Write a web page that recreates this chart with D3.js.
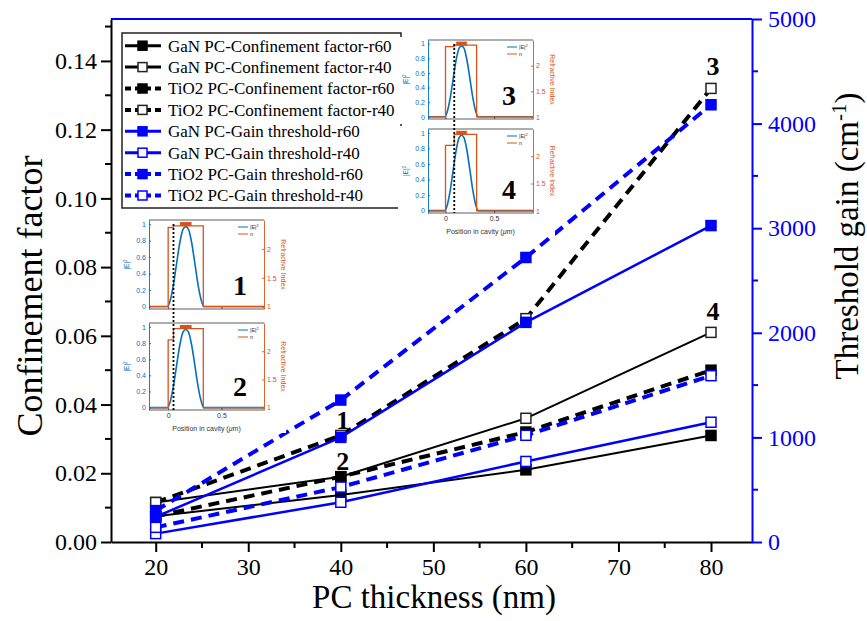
<!DOCTYPE html>
<html><head><meta charset="utf-8">
<script src="https://cdn.jsdelivr.net/npm/d3@7"></script>
<style>body{margin:0;background:#fff}svg{display:block}</style>
</head><body>
<svg id="c" width="867" height="621"></svg>
<script>
// ---------- data ----------
const thickness = [20, 40, 60, 80];
const xTicks = [20, 30, 40, 50, 60, 70, 80];
const cfTicks = [0, 0.02, 0.04, 0.06, 0.08, 0.10, 0.12, 0.14];
const gtTicks = [0, 1000, 2000, 3000, 4000, 5000];
const seriesNames = [
  "GaN PC-Confinement factor-r60",
  "GaN PC-Confinement factor-r40",
  "TiO2 PC-Confinement factor-r60",
  "TiO2 PC-Confinement factor-r40",
  "GaN PC-Gain threshold-r60",
  "GaN PC-Gain threshold-r40",
  "TiO2 PC-Gain threshold-r60",
  "TiO2 PC-Gain threshold-r40"
];
const ganCfR60 = [0.0075, 0.0137, 0.021, 0.031];
const ganCfR40 = [0.0115, 0.019, 0.036, 0.061];
const tioCfR60 = [0.0075, 0.019, 0.032, 0.050];
const tioCfR40 = [0.0115, 0.031, 0.065, 0.132];
const ganGtR60 = [240, 1000, 2100, 3025];
const ganGtR40 = [80, 380, 770, 1145];
const tioGtR60 = [300, 1357, 2720, 4180];
const tioGtR40 = [140, 525, 1020, 1590];
const annotLabels = ["1", "2", "3", "4"];
const annotX = [40, 40, 80, 80];
const annotCf = [0.031, 0.019, 0.132, 0.061];

// inset data
const insetXTicks = [0, 0.5];
const insetLeftTicks = [0, 0.2, 0.4, 0.6, 0.8, 1];
const insetRightTicks = [1, 1.5, 2];
const ePos = [-0.18, -0.005, 0.02, 0.05, 0.08, 0.11, 0.14, 0.165, 0.19, 0.22, 0.25, 0.28, 0.31, 0.335, 0.9];
const eVal = [0, 0, 0.08, 0.27, 0.53, 0.78, 0.94, 0.97, 0.94, 0.78, 0.53, 0.27, 0.08, 0, 0];
const nPos12 = [-0.18, 0, 0, 0.05, 0.05, 0.33, 0.33, 0.9];
const nPos34 = [-0.18, 0, 0, 0.09, 0.09, 0.32, 0.32, 0.9];
const nVal1 = [1, 1, 2.37, 2.37, 2.4, 2.4, 1, 1];
const nVal2 = [1, 1, 2.2, 2.2, 2.4, 2.4, 1, 1];
const nVal3 = [1, 1, 2.37, 2.37, 2.4, 2.4, 1, 1];
const nVal4 = [1, 1, 2.2, 2.2, 2.4, 2.4, 1, 1];
const barPos = [0.11, 0.22];
const barN = 2.43;
const dottedPos12 = 0.05, dottedPos34 = 0.09;
const insetNumbers = ["1", "2", "3", "4"];

// ---------- layout ----------
const svg = d3.select("#c");
const L = 111, R = 752, T = 19, B = 542;
const BLUE = "#0000FF";
const serif = "Liberation Serif";
const sans = "Liberation Sans";

const x = d3.scaleLinear().domain([15.17, 84.43]).range([L, R]);
const yL = d3.scaleLinear().domain([0, 0.1522]).range([B, T]);
const yR = d3.scaleLinear().domain([0, 5000]).range([B, T]);

svg.append("rect").attr("width", 867).attr("height", 621).attr("fill", "#fff");

// ---------- axes ----------
function styleAxis(g, color, size) {
  g.attr("font-family", serif).attr("font-size", size);
  g.selectAll("path").attr("stroke", color).attr("stroke-width", 2);
  g.selectAll("line").attr("stroke", color).attr("stroke-width", 2);
  g.selectAll("text").attr("fill", color).style("font-family", serif).style("font-size", size + "px");
}
const gMinor = svg.append("g");
const xMinor = d3.range(25, 85, 10);
gMinor.selectAll(".xm").data(xMinor).join("line")
  .attr("x1", d => x(d)).attr("x2", d => x(d)).attr("y1", B).attr("y2", B + 6)
  .attr("stroke", "#000").attr("stroke-width", 2);
const cfMinor = d3.range(0.01, 0.152, 0.02);
gMinor.selectAll(".lm").data(cfMinor).join("line")
  .attr("x1", L).attr("x2", L - 6).attr("y1", d => yL(d)).attr("y2", d => yL(d))
  .attr("stroke", "#000").attr("stroke-width", 2);
const gtMinor = d3.range(500, 5000, 1000);
gMinor.selectAll(".rm").data(gtMinor).join("line")
  .attr("x1", R).attr("x2", R + 6).attr("y1", d => yR(d)).attr("y2", d => yR(d))
  .attr("stroke", BLUE).attr("stroke-width", 2);

const gx = svg.append("g").attr("transform", `translate(0,${B})`)
  .call(d3.axisBottom(x).tickValues(xTicks).tickFormat(d3.format("d")).tickSize(10).tickPadding(6).tickSizeOuter(0));
styleAxis(gx, "#000", 24);
const gl = svg.append("g").attr("transform", `translate(${L},0)`)
  .call(d3.axisLeft(yL).tickValues(cfTicks).tickFormat(d3.format(".2f")).tickSize(10).tickPadding(4).tickSizeOuter(0));
styleAxis(gl, "#000", 24);
const gr = svg.append("g").attr("transform", `translate(${R},0)`)
  .call(d3.axisRight(yR).tickValues(gtTicks).tickFormat(d3.format("d")).tickSize(10).tickPadding(6).tickSizeOuter(0));
styleAxis(gr, BLUE, 24);
svg.append("line").attr("x1", L).attr("x2", R).attr("y1", T).attr("y2", T)
  .attr("stroke", BLUE).attr("stroke-width", 2);

// axis titles
svg.append("text").attr("x", 434).attr("y", 608).attr("text-anchor", "middle")
  .attr("font-family", serif).attr("font-size", 33).text("PC thickness (nm)");
svg.append("text").attr("transform", "translate(42,296) rotate(-90)").attr("text-anchor", "middle")
  .attr("font-family", serif).attr("font-size", 36).text("Confinement factor");
const rt = svg.append("text").attr("transform", "translate(858,236) rotate(-90)").attr("text-anchor", "middle")
  .attr("font-family", serif).attr("font-size", 33);
rt.append("tspan").text("Threshold gain (cm");
rt.append("tspan").attr("dy", -12).attr("font-size", 21).text("-1");
rt.append("tspan").attr("dy", 12).text(")");

// ---------- series ----------
const cfSeries = [ganCfR60, ganCfR40, tioCfR60, tioCfR40];
const gtSeries = [ganGtR60, ganGtR40, tioGtR60, tioGtR40];
const series = seriesNames.map((name, i) => ({
  name,
  values: i < 4 ? cfSeries[i] : gtSeries[i - 4],
  scale: i < 4 ? yL : yR,
  color: i < 4 ? "#000" : BLUE,
  dashed: (i % 4) >= 2,
  filled: i % 2 === 0
}));

const gData = svg.append("g");
series.forEach(s => {
  const line = d3.line().x((d, i) => x(thickness[i])).y(d => s.scale(d));
  gData.append("path").datum(s.values).attr("d", line).attr("fill", "none")
    .attr("stroke", s.color)
    .attr("stroke-width", s.dashed ? 4 : (s.color === BLUE ? 2.5 : 2))
    .attr("stroke-dasharray", s.dashed ? "11,7" : null);
});
series.forEach(s => {
  const ms = 10;
  gData.selectAll(null).data(s.values).join("rect")
    .attr("x", (d, i) => x(thickness[i]) - ms / 2)
    .attr("y", d => s.scale(d) - ms / 2)
    .attr("width", ms).attr("height", ms)
    .attr("fill", s.filled ? s.color : "#fff")
    .attr("stroke", s.filled ? s.color : (s.color === BLUE ? BLUE : "#222"))
    .attr("stroke-width", 1.5);
});

// annotations
const annotOffset = [6, 7, 13, 12];
svg.selectAll(".ann").data(annotLabels).join("text")
  .attr("x", (d, i) => x(annotX[i]) + 2)
  .attr("y", (d, i) => yL(annotCf[i]) - annotOffset[i])
  .attr("text-anchor", "middle").attr("font-family", serif).attr("font-size", 26)
  .attr("font-weight", "bold").text(d => d);

// ---------- legend ----------
const lg = svg.append("g");
lg.append("rect").attr("x", 122).attr("y", 33).attr("width", 279).attr("height", 175)
  .attr("fill", "#fff").attr("stroke", "#222").attr("stroke-width", 1.5);
series.forEach((s, i) => {
  const cy = 45.7 + i * 21.4;
  lg.append("line").attr("x1", 125).attr("x2", 161).attr("y1", cy).attr("y2", cy)
    .attr("stroke", s.color).attr("stroke-width", s.dashed ? 4 : 3)
    .attr("stroke-dasharray", s.dashed ? "6,4,16,4,6" : null);
  lg.append("rect").attr("x", 138).attr("y", cy - 4.5).attr("width", 9).attr("height", 9)
    .attr("fill", s.filled ? s.color : "#fff")
    .attr("stroke", s.filled ? s.color : (s.color === BLUE ? BLUE : "#222")).attr("stroke-width", 1.5);
  lg.append("text").attr("x", 168).attr("y", cy).attr("dy", "0.35em")
    .attr("font-family", serif).attr("font-size", 17).attr("fill", "#000").text(s.name);
});

// ---------- insets ----------
const IBLUE = "#0072BD", IORANGE = "#D95319";
function drawInset(fr, nPos, nVal, num, showX) {
  const g = svg.append("g");
  const ix = d3.scaleLinear().domain([-0.18, 0.9]).range([fr.x0, fr.x1]);
  const iyL = d3.scaleLinear().domain([-0.03, 1.05]).range([fr.y1, fr.y0]);
  const iyR = d3.scaleLinear().domain([0.96, 2.5]).range([fr.y1, fr.y0]);
  g.append("rect").attr("x", fr.x0 - 30).attr("y", fr.y0 - 3).attr("width", fr.x1 - fr.x0 + 52)
    .attr("height", fr.y1 - fr.y0 + (showX ? 26 : 8)).attr("fill", "#fff");
  g.append("line").attr("x1", fr.x0).attr("x2", fr.x1).attr("y1", fr.y0).attr("y2", fr.y0).attr("stroke", "#333").attr("stroke-width", 0.8);
  g.append("line").attr("x1", fr.x0).attr("x2", fr.x1).attr("y1", fr.y1).attr("y2", fr.y1).attr("stroke", "#333").attr("stroke-width", 0.8);
  g.append("path").datum(ePos).attr("fill", "none").attr("stroke", IBLUE).attr("stroke-width", 1.6)
    .attr("d", d3.line().x(d => ix(d)).y((d, i) => iyL(eVal[i])).curve(d3.curveMonotoneX));
  g.append("path").datum(nPos).attr("fill", "none").attr("stroke", IORANGE).attr("stroke-width", 1.3)
    .attr("d", d3.line().x(d => ix(d)).y((d, i) => iyR(nVal[i])));
  g.append("rect").attr("x", ix(barPos[0])).attr("y", iyR(barN) - 2)
    .attr("width", ix(barPos[1]) - ix(barPos[0])).attr("height", 4).attr("fill", IORANGE);
  const al = g.append("g").attr("transform", `translate(${fr.x0},0)`)
    .call(d3.axisLeft(iyL).tickValues(insetLeftTicks).tickFormat(d => d).tickSizeInner(-2).tickSizeOuter(0).tickPadding(3));
  al.selectAll("path,line").attr("stroke", IBLUE).attr("stroke-width", 0.9);
  al.selectAll("text").attr("fill", IBLUE).attr("font-family", sans).attr("font-size", 7);
  const ar = g.append("g").attr("transform", `translate(${fr.x1},0)`)
    .call(d3.axisRight(iyR).tickValues(insetRightTicks).tickFormat(d => d).tickSizeInner(-2).tickSizeOuter(0).tickPadding(3));
  ar.selectAll("path,line").attr("stroke", IORANGE).attr("stroke-width", 0.9);
  ar.selectAll("text").attr("fill", IORANGE).attr("font-family", sans).attr("font-size", 7);
  const ab = g.append("g").attr("transform", `translate(0,${fr.y1})`)
    .call(d3.axisBottom(ix).tickValues(insetXTicks).tickSizeInner(-2).tickSizeOuter(0).tickPadding(3)
      .tickFormat(showX ? (d => d) : () => ""));
  ab.select("path").remove();
  ab.selectAll("line").attr("stroke", "#333").attr("stroke-width", 0.8);
  ab.selectAll("text").attr("fill", "#333").attr("font-family", sans).attr("font-size", 7);
  const cy = (fr.y0 + fr.y1) / 2;
  const el = g.append("text").attr("transform", `translate(${fr.x0 - 20},${cy}) rotate(-90)`)
    .attr("text-anchor", "middle").attr("font-family", sans).attr("font-size", 6.5).attr("fill", IBLUE);
  el.append("tspan").text("|E|");
  el.append("tspan").attr("dy", -2.5).attr("font-size", 4.5).text("2");
  g.append("text").attr("transform", `translate(${fr.x1 + 17},${cy}) rotate(90)`)
    .attr("text-anchor", "middle").attr("font-family", sans).attr("font-size", 7).attr("fill", IORANGE)
    .text("Refractive Index");
  if (showX) {
    const xl = g.append("text").attr("x", (fr.x0 + fr.x1) / 2).attr("y", fr.y1 + 21)
      .attr("text-anchor", "middle").attr("font-family", sans).attr("font-size", 7).attr("fill", "#333");
    xl.append("tspan").text("Position in cavity (");
    xl.append("tspan").attr("font-style", "italic").text("\u03bc");
    xl.append("tspan").text("m)");
  }
  const lx = fr.x1 - 26, ly = fr.y0 + 7;
  g.append("line").attr("x1", lx).attr("x2", lx + 10).attr("y1", ly).attr("y2", ly).attr("stroke", IBLUE).attr("stroke-width", 1);
  const le = g.append("text").attr("x", lx + 12).attr("y", ly + 2).attr("font-family", sans).attr("font-size", 5.5).attr("fill", "#333");
  le.append("tspan").text("|E|");
  le.append("tspan").attr("dy", -2).attr("font-size", 4).text("2");
  g.append("line").attr("x1", lx).attr("x2", lx + 10).attr("y1", ly + 7).attr("y2", ly + 7).attr("stroke", IORANGE).attr("stroke-width", 1);
  g.append("text").attr("x", lx + 12).attr("y", ly + 9).attr("font-family", sans).attr("font-size", 5.5).attr("fill", "#333").text("n");
  g.append("text").attr("x", fr.x1 - 24).attr("y", fr.y1 - 14).attr("text-anchor", "middle")
    .attr("font-family", serif).attr("font-size", 28).attr("font-weight", "bold").attr("fill", "#000").text(num);
  return ix;
}
const f1 = {x0: 149, x1: 264, y0: 220, y1: 309};
const f2 = {x0: 149, x1: 264, y0: 323, y1: 410};
const f3 = {x0: 428, x1: 533, y0: 40, y1: 119};
const f4 = {x0: 428, x1: 533, y0: 129, y1: 213};
const ix1 = drawInset(f1, nPos12, nVal1, insetNumbers[0], false);
drawInset(f2, nPos12, nVal2, insetNumbers[1], true);
const ix3 = drawInset(f3, nPos34, nVal3, insetNumbers[2], false);
drawInset(f4, nPos34, nVal4, insetNumbers[3], true);
svg.append("line").attr("x1", ix1(dottedPos12)).attr("x2", ix1(dottedPos12)).attr("y1", f1.y0 + 4).attr("y2", f2.y1)
  .attr("stroke", "#000").attr("stroke-width", 1.8).attr("stroke-dasharray", "2,2");
svg.append("line").attr("x1", ix3(dottedPos34)).attr("x2", ix3(dottedPos34)).attr("y1", f3.y0 + 4).attr("y2", f4.y1)
  .attr("stroke", "#000").attr("stroke-width", 1.8).attr("stroke-dasharray", "2,2");
</script>
</body></html>
